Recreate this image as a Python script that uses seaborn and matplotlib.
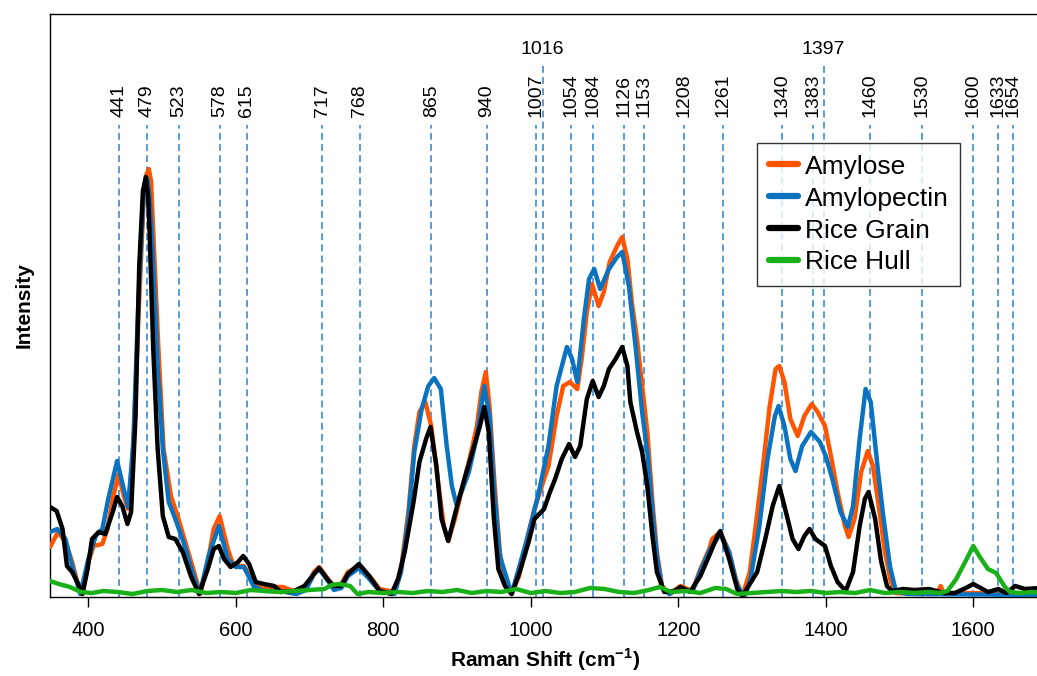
import matplotlib
matplotlib.use("Agg")
import matplotlib.pyplot as plt
import matplotlib.transforms as mtransforms
import seaborn as sns
import pandas as pd

# Raman shift (cm-1) and intensity (a.u.)
amylose_x = [348, 359, 369, 378, 385, 392, 400, 407, 419, 426, 433, 441, 448, 454, 461, 468, 475, 478,
             482, 485, 488, 495, 502, 512, 521, 529, 541, 552, 562, 570, 578, 589, 597, 611, 624, 637,
             645, 664, 682, 695, 706, 713, 725, 733, 743, 752, 767, 781, 795, 815, 824, 834, 842, 849,
             857, 865, 875, 882, 888, 897, 909, 917, 927, 933, 939, 944, 951, 958, 965, 974, 984, 995,
             1005, 1018, 1024, 1035, 1044, 1053, 1063, 1069, 1076, 1083, 1092, 1099, 1107, 1117, 1124,
             1131, 1137, 1144, 1151, 1158, 1165, 1171, 1178, 1188, 1203, 1219, 1230, 1242, 1246, 1257,
             1269, 1278, 1287, 1297, 1305, 1314, 1324, 1332, 1337, 1344, 1352, 1362, 1371, 1381, 1389,
             1399, 1407, 1416, 1426, 1431, 1439, 1448, 1457, 1464, 1473, 1480, 1488, 1495, 1520, 1550,
             1556, 1560, 1600, 1640, 1691]
amylose_y = [49, 64, 54, 34, 14, 2, 34, 50, 52, 67, 97, 122, 100, 87, 147, 280, 397, 420,
             427, 415, 364, 247, 147, 100, 80, 60, 30, 2, 34, 67, 80, 47, 30, 30, 14, 7,
             9, 9, 4, 7, 24, 29, 17, 9, 12, 24, 30, 20, 7, 4, 27, 84, 150, 184,
             194, 170, 110, 70, 55, 77, 114, 137, 170, 204, 224, 190, 110, 44, 14, 2, 20, 57,
             87, 117, 130, 180, 210, 214, 207, 237, 284, 312, 290, 304, 334, 350, 359,
             337, 294, 257, 210, 164, 94, 44, 10, 2, 10, 5, 27, 47, 57, 64,
             44, 17, 0, 24, 70, 124, 190, 227, 230, 214, 177, 160, 180, 192, 184,
             170, 140, 104, 70, 59, 77, 124, 145, 130, 84, 45, 15, 3, 2, 2,
             10, 2, 3, 2, 1]

amylopectin_x = [348, 358, 369, 378, 389, 400, 410, 419, 427, 439, 448, 454, 461, 468, 475, 477, 480,
                 483, 487, 494, 501, 509, 518, 529, 541, 551, 563, 577, 589, 600, 611, 624, 637, 660,
                 682, 695, 706, 713, 725, 733, 743, 752, 767, 781, 795, 815, 824, 834, 842, 852, 861,
                 869, 878, 886, 893, 899, 906, 916, 927, 937, 944, 951, 958, 974, 995, 1011, 1024, 1035,
                 1049, 1056, 1063, 1072, 1079, 1086, 1094, 1106, 1117, 1124, 1133, 1142, 1151, 1158,
                 1165, 1171, 1178, 1188, 1203, 1219, 1230, 1242, 1246, 1257, 1269, 1280, 1290, 1298,
                 1310, 1321, 1331, 1336, 1344, 1352, 1359, 1368, 1380, 1392, 1400, 1409, 1420, 1430,
                 1437, 1446, 1454, 1461, 1471, 1478, 1487, 1495, 1510, 1691]
amylopectin_y = [64, 67, 57, 30, 2, 37, 60, 67, 97, 135, 107, 89, 154, 297, 404, 414, 417,
                 400, 347, 230, 147, 94, 77, 54, 24, 2, 40, 70, 37, 29, 29, 10, 5, 5,
                 2, 6, 22, 27, 15, 6, 8, 20, 28, 17, 5, 2, 24, 77, 144, 187, 210,
                 218, 207, 150, 110, 92, 104, 124, 160, 210, 180, 100, 40, 2, 57, 104, 150, 210,
                 249, 237, 214, 277, 317, 327, 307, 327, 339, 344, 310, 250, 184, 144,
                 84, 40, 8, 2, 8, 4, 25, 45, 50, 62, 44, 10, 0, 17,
                 70, 137, 180, 190, 170, 137, 125, 150, 164, 154, 140, 117, 84, 69,
                 90, 157, 207, 194, 124, 80, 30, 5, 2, 1]

rice_grain_x = [348, 357, 365, 371, 378, 385, 392, 399, 405, 414, 423, 433, 439, 446, 453, 458, 464,
                469, 474, 478, 481, 483, 488, 494, 501, 509, 518, 528, 539, 550, 562, 570, 577, 584,
                593, 603, 610, 618, 627, 638, 652, 661, 679, 693, 706, 713, 725, 733, 743, 752, 767,
                781, 795, 811, 820, 829, 841, 849, 858, 864, 872, 879, 888, 899, 910, 922, 931, 937,
                943, 950, 956, 965, 974, 985, 997, 1005, 1018, 1026, 1033, 1042, 1052, 1060, 1067,
                1076, 1084, 1092, 1099, 1106, 1115, 1124, 1131, 1135, 1144, 1151, 1158, 1165, 1171,
                1181, 1195, 1203, 1216, 1230, 1244, 1253, 1257, 1269, 1280, 1287, 1297, 1307, 1318,
                1328, 1337, 1346, 1355, 1363, 1371, 1378, 1386, 1399, 1407, 1416, 1427, 1437, 1446,
                1453, 1458, 1467, 1475, 1483, 1490, 1505, 1520, 1540, 1560, 1575, 1590, 1600, 1610,
                1620, 1634, 1645, 1657, 1670, 1691]
rice_grain_y = [89, 85, 67, 30, 24, 14, 2, 27, 57, 64, 62, 84, 99, 90, 72, 84, 180,
                330, 405, 419, 400, 364, 247, 147, 80, 59, 57, 44, 20, 2, 27, 47, 50, 37,
                29, 34, 40, 32, 14, 12, 10, 4, 5, 10, 22, 28, 16, 10, 10, 22, 32,
                20, 5, 2, 17, 44, 94, 134, 157, 169, 130, 77, 55, 87, 117, 147, 170, 189,
                164, 77, 27, 10, 2, 24, 54, 77, 87, 104, 117, 137, 152, 139, 150,
                197, 215, 199, 210, 227, 237, 249, 230, 194, 164, 144, 110, 60, 24,
                4, 5, 9, 4, 20, 44, 60, 65, 37, 7, 0, 12, 24, 57,
                90, 110, 84, 57, 47, 60, 67, 57, 50, 30, 14, 5, 24, 70,
                97, 104, 77, 35, 10, 5, 7, 6, 7, 3, 3, 8, 12, 8,
                4, 7, 3, 10, 7, 8]

rice_hull_x = [348, 360, 375, 390, 405, 420, 440, 460, 480, 500, 520, 540, 560, 580, 600, 620, 640,
               660, 680, 700, 720, 730, 740, 755, 765, 780, 800, 820, 840, 860, 880, 900, 920, 940,
               960, 980, 1000, 1020, 1040, 1060, 1080, 1100, 1120, 1140, 1160, 1175, 1190, 1210, 1230,
               1250, 1265, 1280, 1300, 1320, 1340, 1360, 1380, 1400, 1420, 1440, 1460, 1480, 1500,
               1520, 1540, 1555, 1565, 1577, 1589, 1600, 1609, 1620, 1631, 1643, 1650, 1665, 1680, 1691]
rice_hull_y = [15, 12, 9, 4, 3, 5, 4, 2, 5, 6, 4, 6, 3, 4, 3, 6, 5,
               4, 5, 6, 7, 11, 12, 10, 2, 4, 3, 4, 3, 5, 4, 6, 3, 5,
               4, 7, 3, 5, 3, 4, 8, 7, 4, 3, 6, 9, 4, 5, 3,
               8, 7, 2, 3, 4, 5, 4, 5, 3, 4, 3, 6, 3, 4,
               3, 4, 3, 5, 17, 34, 50, 39, 27, 23, 9, 4, 3, 4, 3]

peak_positions = [441, 479, 523, 578, 615, 717, 768, 865, 940, 1007, 1016, 1054, 1084, 1126,
                  1153, 1208, 1261, 1340, 1383, 1397, 1460, 1530, 1600, 1633, 1654]
raised_peaks = [1016, 1397]

series_names = ["Amylose", "Amylopectin", "Rice Grain", "Rice Hull"]
series_colors = ["#ff5500", "#0b72c0", "#000000", "#19b019"]

frames = []
for name, xs, ys in zip(series_names,
                        [amylose_x, amylopectin_x, rice_grain_x, rice_hull_x],
                        [amylose_y, amylopectin_y, rice_grain_y, rice_hull_y]):
    frames.append(pd.DataFrame({"shift": xs, "intensity": ys, "sample": name}))
df = pd.concat(frames, ignore_index=True)

sns.set_style("white")
plt.rcParams["font.family"] = ["Liberation Sans", "DejaVu Sans"]
plt.rcParams["mathtext.fontset"] = "custom"
plt.rcParams["mathtext.rm"] = "Liberation Sans"
plt.rcParams["mathtext.bf"] = "Liberation Sans:bold"
plt.rcParams["text.color"] = "black"
plt.rcParams["axes.labelcolor"] = "black"
plt.rcParams["xtick.color"] = "black"

fig = plt.figure(figsize=(10.37, 6.76), dpi=100)
ax = fig.add_axes([50 / 1037, 79 / 676, 0.955, 583 / 676])

trans = mtransforms.blended_transform_factory(ax.transData, ax.transAxes)
for p in peak_positions:
    top = 0.918 if p in raised_peaks else 0.81
    ax.axvline(p, ymin=0, ymax=top, color="#2b80d5", lw=1.1, dashes=(4.5, 2.8), zorder=1)
    if p in raised_peaks:
        ax.text(p, 0.925, str(p), transform=trans, ha="center", va="bottom", fontsize=14)
    else:
        ax.text(p, 0.823, str(p), transform=trans, ha="center", va="bottom",
                rotation=90, fontsize=14)

sns.lineplot(data=df, x="shift", y="intensity", hue="sample", hue_order=series_names,
             palette=series_colors, estimator=None, lw=3.2, ax=ax, zorder=3)

ax.set_xlim(348, 1691)
ax.set_ylim(-1, 582)
ax.set_xticks([400, 600, 800, 1000, 1200, 1400, 1600])
ax.set_yticks([])
ax.tick_params(axis="x", direction="out", length=7, width=1, pad=10, labelsize=14.5,
               bottom=True, color="black")
for s in ax.spines.values():
    s.set_color("black")
    s.set_linewidth(1)
ax.set_xlabel(r"Raman Shift (cm$^{\mathbf{-1}}$)", fontsize=15, fontweight="bold", labelpad=5)
ax.set_ylabel("Intensity", fontsize=15, fontweight="bold", labelpad=12)

handles, labels = ax.get_legend_handles_labels()
leg = ax.legend(handles, labels, loc="upper left", bbox_to_anchor=(0.714, 0.779),
                borderaxespad=0, fontsize=19, frameon=True, fancybox=False,
                handlelength=1.1, handletextpad=0.25, labelspacing=0.3,
                borderpad=0.45)
leg.get_frame().set_edgecolor("black")
leg.get_frame().set_linewidth(1)
for h in leg.get_lines():
    h.set_linewidth(4.5)

fig.savefig("out.png", dpi=100)
